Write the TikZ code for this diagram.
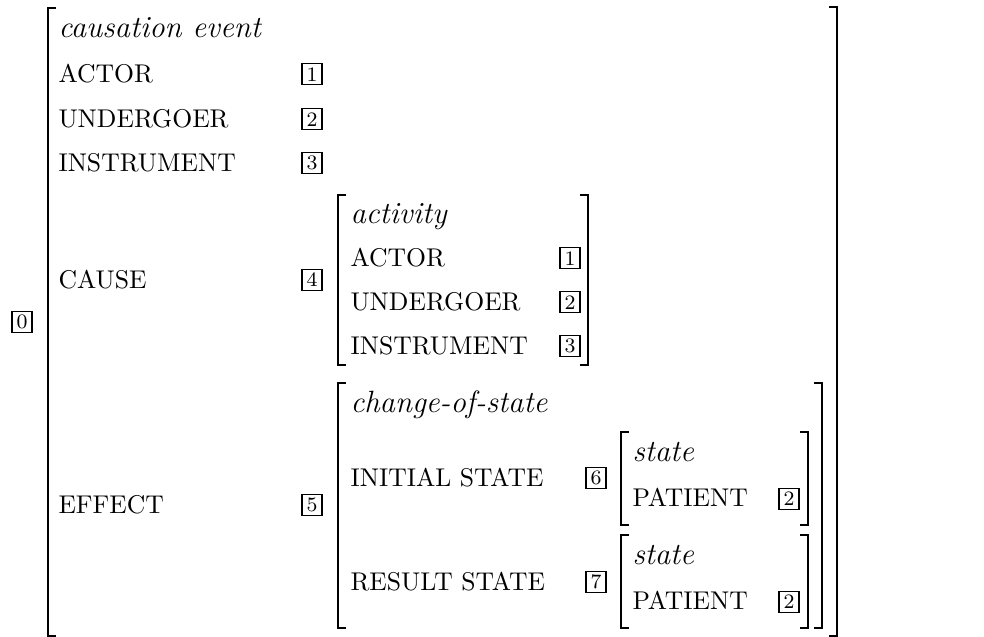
\documentclass[tikz,border=0pt]{standalone}
\usepackage{fontspec}
\usetikzlibrary{positioning}

\begin{document}
\begin{tikzpicture}[
    x=0.39pt, y=-0.39pt,
    lbl/.style={anchor=base west, inner sep=0pt},
    typ/.style={anchor=base west, inner sep=0pt, font=\large\itshape},
    tag/.style={draw, line width=0.4pt, inner sep=0pt, minimum width=7.8pt, minimum height=8.2pt, font=\footnotesize},
    brk/.style={line width=0.8pt}
]
    \useasboundingbox (0,0) rectangle (984,637);

    % Outer AVM (causation event)
    \node [tag] (tag0) at (22,322) {0};
    \draw [brk] (56,8) -- (48,8) -- (48,636) -- (56,636);
    \draw [brk] (829,7) -- (837,7) -- (837,636) -- (829,636);
    \node [typ] (causation) at (58,38) {causation event};
    \foreach \nm/\txt/\num/\yy in {actor/ACTOR/1/83, undergoer/UNDERGOER/2/128, instrument/INSTRUMENT/3/172}{
        \node [lbl] (\nm) at (58,\yy) {\txt};
        \node [tag] (\nm-val) at (312,\yy-8.7) {\num};
    }
    \node [lbl] (cause) at (58,289) {CAUSE};
    \node [tag] (tag4) at (312,280) {4};
    \node [lbl] (effect) at (58,514) {EFFECT};
    \node [tag] (tag5) at (312,505) {5};

    % CAUSE value (activity)
    \draw [brk] (346,195) -- (338,195) -- (338,365) -- (346,365);
    \draw [brk] (580,195) -- (588,195) -- (588,365) -- (580,365);
    \node [typ] (activity) at (350,224) {activity};
    \foreach \nm/\txt/\num/\yy in {actor/ACTOR/1/267, undergoer/UNDERGOER/2/311, instrument/INSTRUMENT/3/355}{
        \node [lbl] (act-\nm) at (350,\yy) {\txt};
        \node [tag] (act-\nm-val) at (570,\yy-8.7) {\num};
    }

    % EFFECT value (change-of-state)
    \draw [brk] (346,383) -- (338,383) -- (338,628) -- (346,628);
    \draw [brk] (814,383) -- (822,383) -- (822,628) -- (814,628);
    \node [typ] (cos) at (350,413) {change-of-state};
    \node [lbl] (initial) at (350,487) {INITIAL STATE};
    \node [tag] (tag6) at (596,478) {6};
    \node [lbl] (result) at (350,591) {RESULT STATE};
    \node [tag] (tag7) at (596,582) {7};

    % state values
    \foreach \nm/\top/\bot in {init/432/525, res/535/628}{
        \draw [brk] (629,\top) -- (621,\top) -- (621,\bot) -- (629,\bot);
        \draw [brk] (800,\top) -- (808,\top) -- (808,\bot) -- (800,\bot);
        \node [typ] (\nm-state) at (632,\top+30) {state};
        \node [lbl] (\nm-patient) at (632,\top+75) {PATIENT};
        \node [tag] (\nm-patient-val) at (789,\top+67) {2};
    }
\end{tikzpicture}
\end{document}
